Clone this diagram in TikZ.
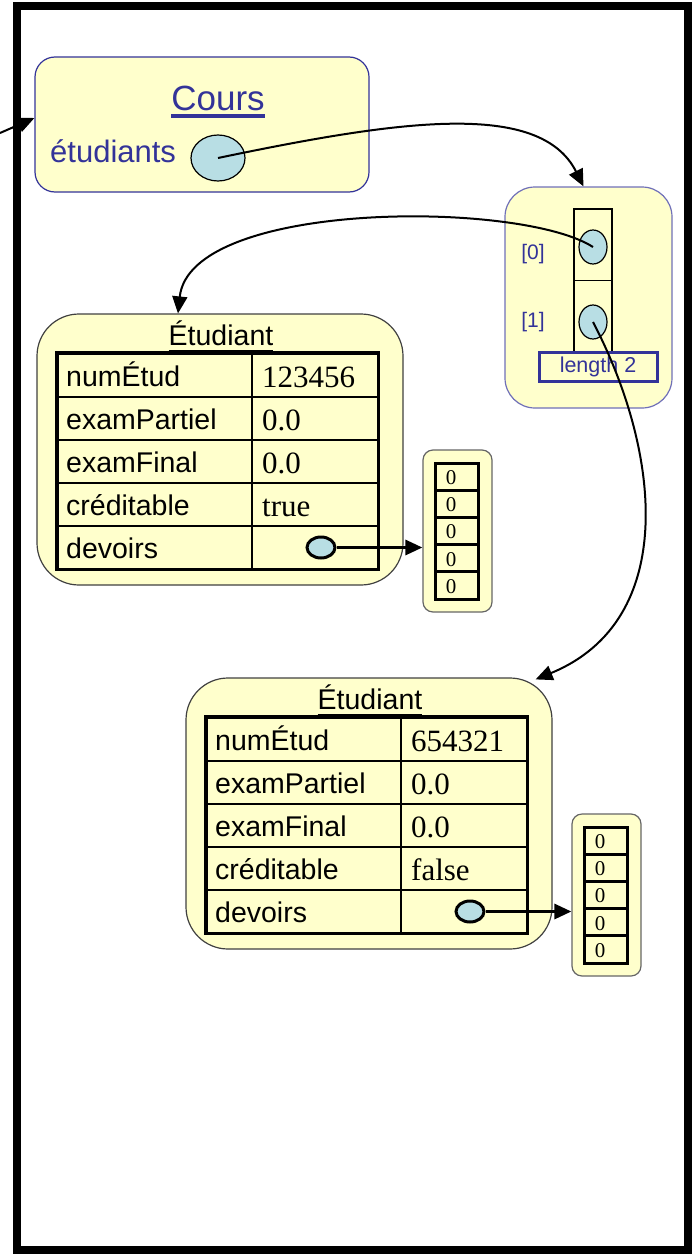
\documentclass[tikz,border=0pt]{standalone}
\usepackage{fontspec}
\setmainfont{Liberation Serif}
\setsansfont{Liberation Sans}
\usetikzlibrary{arrows.meta,shapes.geometric}

\definecolor{memo}{RGB}{255,255,204}
\definecolor{ptrfill}{RGB}{184,222,228}
\definecolor{classblue}{RGB}{51,51,153}

\begin{document}
\begin{tikzpicture}[x=1pt,y=-1pt,
    objbox/.style={draw=black!75,line width=1.2pt,fill=memo,inner sep=0pt},
    ptr/.style={ellipse,draw,fill=ptrfill,inner sep=0pt,line width=1.2pt},
    cell/.style={draw,line width=1.6pt,minimum height=43pt,inner sep=0pt,anchor=north west},
    zcell/.style={draw,line width=3pt,minimum width=43pt,minimum height=27.2pt,inner sep=0pt},
    lab/.style={font=\sffamily\fontsize{28.5}{31}\selectfont,inner sep=0pt,anchor=base west},
    val/.style={font=\fontsize{31}{34}\selectfont,inner sep=0pt,anchor=base west},
    link/.style={line width=2pt,-{Triangle[length=17pt,width=15pt]}}]

\useasboundingbox (0,0) rectangle (698,1255);

%draw frame
\draw[line width=8.5pt] (17,6) rectangle (688,1250);

%draw Cours object
\node[objbox,draw=classblue,rounded corners=20pt,minimum width=334pt,minimum height=135pt] (cours) at (202,124.5) {};
\node[font=\sffamily\fontsize{35}{40}\selectfont,text=classblue,inner sep=0pt,anchor=base] (coursT) at (218,110) {Cours};
\draw[classblue,line width=3.5pt] ([yshift=-6pt]coursT.base west) -- ([yshift=-6pt]coursT.base east);
\node[font=\sffamily\fontsize{31}{34}\selectfont,text=classblue,inner sep=0pt,anchor=base west] (coursE) at (50,162) {étudiants};
\node[ptr,minimum width=54pt,minimum height=46pt] (coursPtr) at (218,158) {};

%draw array of students
\node[objbox,draw=classblue!70,rounded corners=30pt,minimum width=167pt,minimum height=221pt] (arr) at (588.5,297.5) {};
\node[draw,line width=1.2pt,minimum width=38pt,minimum height=71.5pt,inner sep=0pt] (arr0) at (593,244.75) {};
\node[draw,line width=1.2pt,minimum width=38pt,minimum height=71.5pt,inner sep=0pt] (arr1) at (593,316.25) {};
\node[ptr,minimum width=28pt,minimum height=34pt] (arrPtr0) at (593,247) {};
\node[ptr,minimum width=28pt,minimum height=34pt] (arrPtr1) at (593,322) {};
\node[font=\sffamily\fontsize{21}{24}\selectfont,text=classblue] (idx0) at (533,254) {[0]};
\node[font=\sffamily\fontsize{21}{24}\selectfont,text=classblue] (idx1) at (533,322) {[1]};
\node[draw=classblue,line width=3pt,fill=memo,minimum width=118pt,minimum height=29pt,inner sep=0pt,
      font=\sffamily\fontsize{21.5}{24}\selectfont,text=classblue] (arrLen) at (598,366.5) {length 2};

%draw the two students
\foreach \s/\dx/\dy/\num/\cred in {one/0/0/123456/true, two/149/364/654321/false}{
  \begin{scope}[shift={(\dx,\dy)}]
    \node[objbox,rounded corners=42pt,minimum width=366pt,minimum height=271pt] (\s) at (220,449.5) {};
    \node[font=\sffamily\fontsize{28.5}{32}\selectfont,inner sep=0pt,anchor=base] (\s-title) at (221,345) {Étudiant};
    \draw[line width=2.5pt] ([yshift=-6pt]\s-title.base west) -- ([yshift=-6pt]\s-title.base east);
    \foreach \lab/\val [count=\i] in {numÉtud/\num, examPartiel/0.0, examFinal/0.0, créditable/\cred, devoirs/{}}{
      \node[cell,minimum width=194pt] (\s-l\i) at (57,{353+43*(\i-1)}) {};
      \node[cell,minimum width=126pt] (\s-v\i) at (251,{353+43*(\i-1)}) {};
      \node[lab] at ([xshift=9pt,yshift=-33pt]\s-l\i.north west) {\lab};
      \node[val] at ([xshift=11pt,yshift=-34pt]\s-v\i.north west) {\val};
    }
    \draw[line width=3.5pt] (\s-l1.north west) rectangle (\s-v5.south east);
    \node[ptr,line width=3pt,minimum width=28pt,minimum height=21pt] (\s-ptr) at (321,547.5) {};
    % devoirs array
    \node[objbox,draw=black!60,rounded corners=10pt,minimum width=69pt,minimum height=162pt] (\s-arr) at (457.5,531) {};
    \foreach \k in {1,...,5}{
      \node[zcell] (\s-z\k) at (456.5,{463+27.2*(\k-0.5)}) {};
      \node[font=\fontsize{21}{24}\selectfont,inner sep=0pt] at (451,{464+27.2*(\k-0.5)}) {0};
    }
    \draw[link,line width=3pt] (\s-ptr.east) -- (\s-ptr.east -| \s-arr.west);
  \end{scope}
}

%draw references
\coordinate (extIn) at (0,133);
\draw[link] (extIn) -- ([yshift=6.5pt]cours.west);
\draw[link] (coursPtr.center) .. controls (400,120) and (540,100) .. ([xshift=-5pt]arr.north);
\draw[link] (arrPtr0.center) .. controls (520,200) and (190,200) .. ([xshift=-42pt]one.north);
\draw[link] (arrPtr1.center) .. controls (660,450) and (680,620) .. ([shift={(-17pt,-2pt)}]two.north east);

\end{tikzpicture}
\end{document}
